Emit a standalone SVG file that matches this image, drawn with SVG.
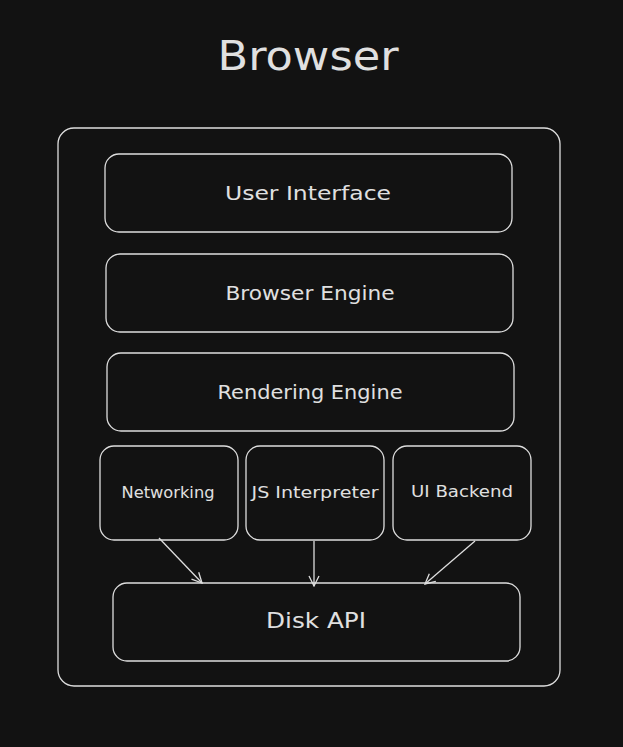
<svg xmlns="http://www.w3.org/2000/svg" width="623" height="747" viewBox="0 0 623 747">
<defs>
<style>
.box{fill:#121212;stroke:#dedede;stroke-width:1.3}
.t{fill:#e0e0e0;font-family:"DejaVu Sans","Liberation Sans",sans-serif;text-anchor:middle;dominant-baseline:central}
.l{font-size:19px}
.s{font-size:15px}
.c{stroke:#dedede;stroke-width:1.3;fill:none}
</style>
<marker id="ah" viewBox="0 0 12 12" refX="11" refY="6" markerWidth="12" markerHeight="12" markerUnits="userSpaceOnUse" orient="auto">
<path d="M1,1 L11,6 L1,11" fill="none" stroke="#dedede" stroke-width="1.3"/>
</marker>
</defs>
<rect width="623" height="747" fill="#121212"/>
<text class="t" x="308" y="56" font-size="40" textLength="181" lengthAdjust="spacingAndGlyphs">Browser</text>
<g id="browser"><rect class="box" x="58" y="128" width="502" height="558" rx="16"/></g>
<g id="user-interface"><rect class="box" x="105" y="154" width="407" height="78" rx="14"/><text class="t l" x="308" y="193" textLength="166" lengthAdjust="spacingAndGlyphs">User Interface</text></g>
<g id="browser-engine"><rect class="box" x="106" y="254" width="407" height="78" rx="14"/><text class="t l" x="310" y="293" textLength="169" lengthAdjust="spacingAndGlyphs">Browser Engine</text></g>
<g id="rendering-engine"><rect class="box" x="107" y="353" width="407" height="78" rx="14"/><text class="t l" x="310" y="392" textLength="185" lengthAdjust="spacingAndGlyphs">Rendering Engine</text></g>
<g id="networking"><rect class="box" x="100" y="446" width="138" height="94" rx="14"/><text class="t s" x="168" y="493" textLength="93" lengthAdjust="spacingAndGlyphs">Networking</text></g>
<g id="js-interpreter"><rect class="box" x="246" y="446" width="138" height="94" rx="14"/><text class="t s" x="315" y="493" textLength="127" lengthAdjust="spacingAndGlyphs">JS Interpreter</text></g>
<g id="ui-backend"><rect class="box" x="393" y="446" width="138" height="94" rx="14"/><text class="t s" x="462" y="492" textLength="102" lengthAdjust="spacingAndGlyphs">UI Backend</text></g>
<g id="disk-api"><rect class="box" x="113" y="583" width="407" height="78" rx="14"/><text class="t" x="316" y="620" font-size="22" textLength="100" lengthAdjust="spacingAndGlyphs">Disk API</text></g>
<g id="connectors">
<line class="c" x1="159" y1="538" x2="202" y2="583" marker-end="url(#ah)"/>
<line class="c" x1="314" y1="541" x2="314" y2="586" marker-end="url(#ah)"/>
<line class="c" x1="475" y1="541" x2="425" y2="584" marker-end="url(#ah)"/>
</g>
</svg>
